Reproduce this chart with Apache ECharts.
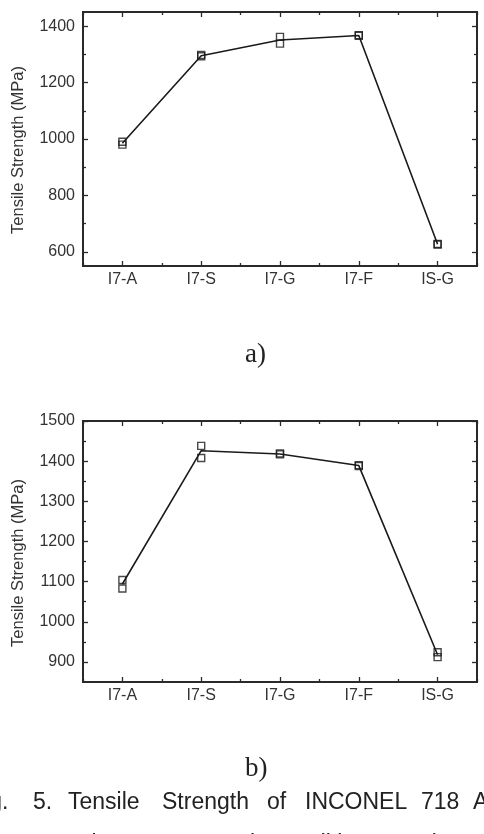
<!DOCTYPE html>
<html>
<head>
<meta charset="utf-8">
<script src="https://cdn.jsdelivr.net/npm/echarts@6/dist/echarts.min.js"></script>
<style>
html, body { margin: 0; padding: 0; background: #fff; }
#main { width: 484px; height: 834px; }
</style>
</head>
<body>
<div id="main"></div>
<script>
var categories = ['I7-A', 'I7-S', 'I7-G', 'I7-F', 'IS-G'];

// a) two specimens per condition, line through the mean
var aSpec1 = [990, 1298, 1362, 1368, 628];
var aSpec2 = [980, 1293, 1338, 1366, 626];
var aMean = [985, 1295, 1351, 1367, 627];
var aTicks = [600, 800, 1000, 1200, 1400];
var aMinor = [700, 900, 1100, 1300];

// b)
var bSpec1 = [1104, 1438, 1419, 1390, 924];
var bSpec2 = [1083, 1408, 1417, 1388, 912];
var bMean = [1094, 1426, 1418, 1389, 918];
var bTicks = [900, 1000, 1100, 1200, 1300, 1400, 1500];
var bMinor = [950, 1050, 1150, 1250, 1350, 1450];

var axisColor = '#2a2a2a';
var labelFont = { fontSize: 16, color: '#333', fontFamily: 'Liberation Sans, Arial, sans-serif' };

function xAxesFor(g) {
  var list = [];
  ['bottom', 'top'].forEach(function (pos) {
    list.push({
      gridIndex: g, type: 'category', data: categories, position: pos,
      axisLine: { show: true, lineStyle: { color: axisColor, width: 1.8 } },
      axisTick: { show: true, inside: true, alignWithLabel: true, length: 5, lineStyle: { color: axisColor, width: 1.3 } },
      axisLabel: Object.assign({ show: pos == 'bottom', margin: 6 }, labelFont)
    });
    list.push({
      gridIndex: g, type: 'category', data: categories, position: pos,
      axisLine: { show: true, lineStyle: { color: axisColor, width: 1.8 } },
      axisTick: { show: true, inside: true, alignWithLabel: false, length: 3, lineStyle: { color: axisColor, width: 1.3 } },
      axisLabel: { show: false }
    });
  });
  return list;
}

function yAxesFor(g, min, max, majors, minors) {
  var list = [];
  ['left', 'right'].forEach(function (pos) {
    list.push({
      gridIndex: g, type: 'value', min: min, max: max, position: pos,
      axisLine: { show: true, lineStyle: { color: axisColor, width: 1.8 } }, splitLine: { show: false },
      axisTick: { show: true, inside: true, length: 5, customValues: majors, lineStyle: { color: axisColor, width: 1.3 } },
      axisLabel: Object.assign({
        show: pos == 'left', margin: 8, customValues: majors,
        formatter: function (v) { return String(v); }
      }, labelFont)
    });
    list.push({
      gridIndex: g, type: 'value', min: min, max: max, position: pos,
      axisLine: { show: true, lineStyle: { color: axisColor, width: 1.8 } }, splitLine: { show: false },
      axisTick: { show: true, inside: true, length: 3, customValues: minors, lineStyle: { color: axisColor, width: 1.3 } },
      axisLabel: { show: false }
    });
  });
  return list;
}

function seriesFor(xi, yi, mean, s1, s2) {
  var marker = {
    type: 'scatter', xAxisIndex: xi, yAxisIndex: yi, symbol: 'rect', symbolSize: 7,
    itemStyle: { color: 'transparent', borderColor: '#1a1a1a', borderWidth: 1.4 }, z: 3
  };
  return [
    { type: 'line', xAxisIndex: xi, yAxisIndex: yi, data: mean, symbol: 'none',
      lineStyle: { color: '#1a1a1a', width: 1.6 } },
    Object.assign({ data: s1 }, marker),
    Object.assign({ data: s2 }, marker)
  ];
}

// caption words, left edge of each word
var capLine1 = [['5.', 33], ['Tensile', 68], ['Strength', 162], ['of', 267], ['INCONEL', 305], ['718', 421], ['Alloy', 473]];
var capLine2 = [['regards', 30], ['to', 132], ['Cryogenic', 163], ['conditions', 276], ['a)', 420], ['5', 474]];

var texts = [
  { type: 'text', x: 18, y: 150, rotation: Math.PI / 2,
    style: { text: 'Tensile Strength (MPa)', fill: '#333', font: '16.5px "Liberation Sans", Arial', align: 'center', verticalAlign: 'middle' } },
  { type: 'text', x: 18, y: 563, rotation: Math.PI / 2,
    style: { text: 'Tensile Strength (MPa)', fill: '#333', font: '16.5px "Liberation Sans", Arial', align: 'center', verticalAlign: 'middle' } },
  { type: 'text', x: 245, y: 355,
    style: { text: 'a)', fill: '#222', font: '27px "Liberation Serif", serif', align: 'left', verticalAlign: 'middle' } },
  { type: 'text', x: 245, y: 769,
    style: { text: 'b)', fill: '#222', font: '27px "Liberation Serif", serif', align: 'left', verticalAlign: 'middle' } },
  { type: 'text', x: 8.5, y: 803,
    style: { text: 'Fig.', fill: '#222', font: '23px "Liberation Sans", Arial', align: 'right', verticalAlign: 'middle' } }
];
capLine1.forEach(function (w) {
  texts.push({ type: 'text', x: w[1], y: 803,
    style: { text: w[0], fill: '#222', font: '23px "Liberation Sans", Arial', align: 'left', verticalAlign: 'middle' } });
});
capLine2.forEach(function (w) {
  texts.push({ type: 'text', x: w[1], y: 845,
    style: { text: w[0], fill: '#222', font: '23px "Liberation Sans", Arial', align: 'left', verticalAlign: 'middle' } });
});

var chart = echarts.init(document.getElementById('main'), null, { renderer: 'canvas' });

var option = {
  animation: false,
  backgroundColor: '#fff',
  grid: [
    { left: 83, right: 7, top: 12, height: 254, show: true, borderColor: axisColor, borderWidth: 1.8 },
    { left: 83, right: 7, top: 421, height: 261, show: true, borderColor: axisColor, borderWidth: 1.8 }
  ],
  xAxis: xAxesFor(0).concat(xAxesFor(1)),
  yAxis: yAxesFor(0, 550, 1450, aTicks, aMinor).concat(yAxesFor(1, 850, 1500, bTicks, bMinor)),
  series: seriesFor(0, 0, aMean, aSpec1, aSpec2).concat(seriesFor(4, 4, bMean, bSpec1, bSpec2)),
  graphic: texts
};

chart.setOption(option);
</script>
</body>
</html>
